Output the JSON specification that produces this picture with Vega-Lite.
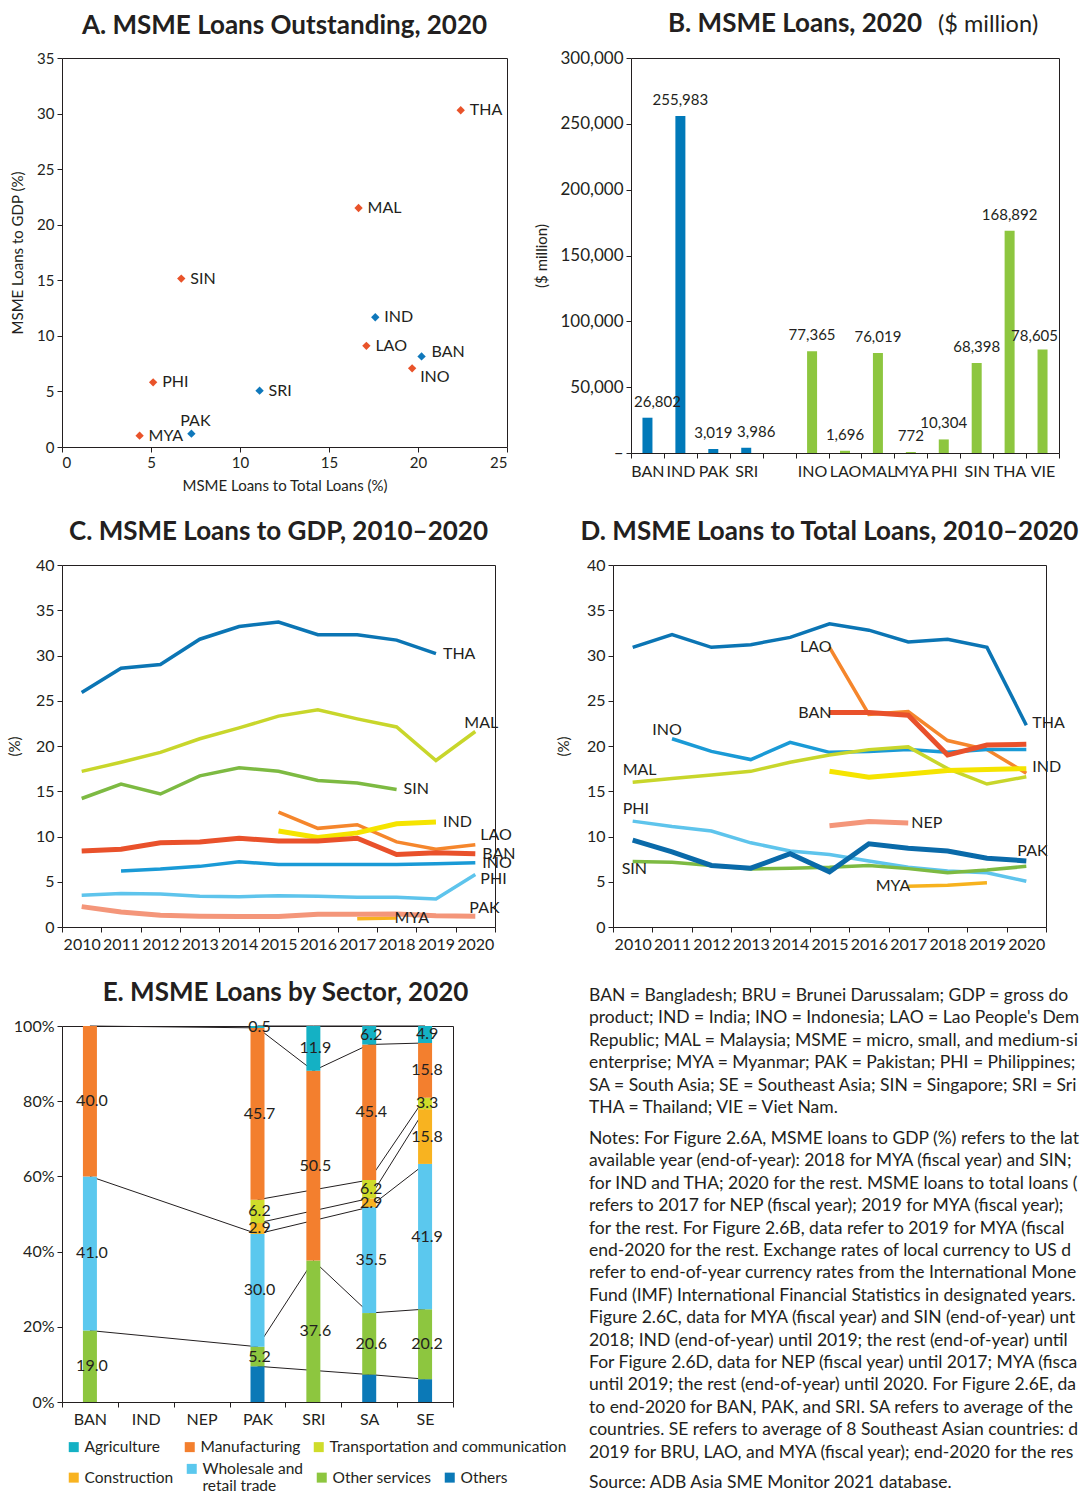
{
  "$schema": "https://vega.github.io/schema/vega-lite/v6.json",
  "background": "white",
  "padding": {"left": 6, "top": 10, "right": 0, "bottom": 0},
  "config": {
    "font": "Lato",
    "view": {"stroke": "#231f20", "strokeWidth": 1},
    "axis": {"domain": false, "grid": false, "tickColor": "#231f20", "tickSize": 5, "labelColor": "#231f20", "labelFontSize": 16, "labelPadding": 3, "titleColor": "#231f20", "titleFontSize": 15, "titleFontWeight": "normal", "titlePadding": 8},
    "title": {"fontSize": 26, "fontWeight": "bold", "color": "#231f20", "anchor": "middle", "frame": "group", "offset": 12},
    "text": {"font": "Lato", "color": "#231f20", "fontSize": 16}
  },
  "datasets": {
    "scatter": [
      {"country": "THA", "total": 22.4, "gdp": 30.3, "region": "Southeast Asia"},
      {"country": "MAL", "total": 16.66, "gdp": 21.5, "region": "Southeast Asia"},
      {"country": "SIN", "total": 6.7, "gdp": 15.15, "region": "Southeast Asia"},
      {"country": "IND", "total": 17.6, "gdp": 11.67, "region": "South Asia"},
      {"country": "LAO", "total": 17.1, "gdp": 9.1, "region": "Southeast Asia"},
      {"country": "BAN", "total": 20.2, "gdp": 8.15, "region": "South Asia"},
      {"country": "INO", "total": 19.67, "gdp": 7.08, "region": "Southeast Asia"},
      {"country": "PHI", "total": 5.12, "gdp": 5.82, "region": "Southeast Asia"},
      {"country": "SRI", "total": 11.1, "gdp": 5.07, "region": "South Asia"},
      {"country": "PAK", "total": 7.27, "gdp": 1.2, "region": "South Asia"},
      {"country": "MYA", "total": 4.36, "gdp": 1.02, "region": "Southeast Asia"}
    ],
    "loans": [
      {"country": "BAN", "value": 26802, "region": "South Asia"},
      {"country": "IND", "value": 255983, "region": "South Asia"},
      {"country": "PAK", "value": 3019, "region": "South Asia"},
      {"country": "SRI", "value": 3986, "region": "South Asia"},
      {"country": "INO", "value": 77365, "region": "Southeast Asia"},
      {"country": "LAO", "value": 1696, "region": "Southeast Asia"},
      {"country": "MAL", "value": 76019, "region": "Southeast Asia"},
      {"country": "MYA", "value": 772, "region": "Southeast Asia"},
      {"country": "PHI", "value": 10304, "region": "Southeast Asia"},
      {"country": "SIN", "value": 68398, "region": "Southeast Asia"},
      {"country": "THA", "value": 168892, "region": "Southeast Asia"},
      {"country": "VIE", "value": 78605, "region": "Southeast Asia"}
    ],
    "gdpSeries": [
      {"country": "THA", "year": 2010, "value": 25.9}, {"country": "THA", "year": 2011, "value": 28.6}, {"country": "THA", "year": 2012, "value": 29.0}, {"country": "THA", "year": 2013, "value": 31.8}, {"country": "THA", "year": 2014, "value": 33.2}, {"country": "THA", "year": 2015, "value": 33.7}, {"country": "THA", "year": 2016, "value": 32.3}, {"country": "THA", "year": 2017, "value": 32.3}, {"country": "THA", "year": 2018, "value": 31.7}, {"country": "THA", "year": 2019, "value": 30.2},
      {"country": "MAL", "year": 2010, "value": 17.2}, {"country": "MAL", "year": 2011, "value": 18.2}, {"country": "MAL", "year": 2012, "value": 19.3}, {"country": "MAL", "year": 2013, "value": 20.8}, {"country": "MAL", "year": 2014, "value": 22.0}, {"country": "MAL", "year": 2015, "value": 23.3}, {"country": "MAL", "year": 2016, "value": 24.0}, {"country": "MAL", "year": 2017, "value": 23.0}, {"country": "MAL", "year": 2018, "value": 22.1}, {"country": "MAL", "year": 2019, "value": 18.4}, {"country": "MAL", "year": 2020, "value": 21.6},
      {"country": "SIN", "year": 2010, "value": 14.2}, {"country": "SIN", "year": 2011, "value": 15.8}, {"country": "SIN", "year": 2012, "value": 14.7}, {"country": "SIN", "year": 2013, "value": 16.7}, {"country": "SIN", "year": 2014, "value": 17.6}, {"country": "SIN", "year": 2015, "value": 17.2}, {"country": "SIN", "year": 2016, "value": 16.2}, {"country": "SIN", "year": 2017, "value": 15.9}, {"country": "SIN", "year": 2018, "value": 15.2},
      {"country": "IND", "year": 2015, "value": 10.6}, {"country": "IND", "year": 2016, "value": 9.9}, {"country": "IND", "year": 2017, "value": 10.4}, {"country": "IND", "year": 2018, "value": 11.4}, {"country": "IND", "year": 2019, "value": 11.6},
      {"country": "LAO", "year": 2015, "value": 12.7}, {"country": "LAO", "year": 2016, "value": 10.9}, {"country": "LAO", "year": 2017, "value": 11.3}, {"country": "LAO", "year": 2018, "value": 9.4}, {"country": "LAO", "year": 2019, "value": 8.6}, {"country": "LAO", "year": 2020, "value": 9.1},
      {"country": "BAN", "year": 2010, "value": 8.4}, {"country": "BAN", "year": 2011, "value": 8.6}, {"country": "BAN", "year": 2012, "value": 9.3}, {"country": "BAN", "year": 2013, "value": 9.4}, {"country": "BAN", "year": 2014, "value": 9.8}, {"country": "BAN", "year": 2015, "value": 9.5}, {"country": "BAN", "year": 2016, "value": 9.5}, {"country": "BAN", "year": 2017, "value": 9.8}, {"country": "BAN", "year": 2018, "value": 8.0}, {"country": "BAN", "year": 2019, "value": 8.2}, {"country": "BAN", "year": 2020, "value": 8.1},
      {"country": "INO", "year": 2011, "value": 6.2}, {"country": "INO", "year": 2012, "value": 6.4}, {"country": "INO", "year": 2013, "value": 6.7}, {"country": "INO", "year": 2014, "value": 7.2}, {"country": "INO", "year": 2015, "value": 6.9}, {"country": "INO", "year": 2016, "value": 6.9}, {"country": "INO", "year": 2017, "value": 6.9}, {"country": "INO", "year": 2018, "value": 6.9}, {"country": "INO", "year": 2019, "value": 7.0}, {"country": "INO", "year": 2020, "value": 7.1},
      {"country": "PHI", "year": 2010, "value": 3.5}, {"country": "PHI", "year": 2011, "value": 3.7}, {"country": "PHI", "year": 2012, "value": 3.65}, {"country": "PHI", "year": 2013, "value": 3.4}, {"country": "PHI", "year": 2014, "value": 3.35}, {"country": "PHI", "year": 2015, "value": 3.45}, {"country": "PHI", "year": 2016, "value": 3.4}, {"country": "PHI", "year": 2017, "value": 3.3}, {"country": "PHI", "year": 2018, "value": 3.3}, {"country": "PHI", "year": 2019, "value": 3.1}, {"country": "PHI", "year": 2020, "value": 5.8},
      {"country": "PAK", "year": 2010, "value": 2.25}, {"country": "PAK", "year": 2011, "value": 1.65}, {"country": "PAK", "year": 2012, "value": 1.3}, {"country": "PAK", "year": 2013, "value": 1.2}, {"country": "PAK", "year": 2014, "value": 1.15}, {"country": "PAK", "year": 2015, "value": 1.15}, {"country": "PAK", "year": 2016, "value": 1.4}, {"country": "PAK", "year": 2017, "value": 1.4}, {"country": "PAK", "year": 2018, "value": 1.45}, {"country": "PAK", "year": 2019, "value": 1.25}, {"country": "PAK", "year": 2020, "value": 1.2},
      {"country": "MYA", "year": 2017, "value": 0.9}, {"country": "MYA", "year": 2018, "value": 1.0}
    ],
    "totalSeries": [
      {"country": "THA", "year": 2010, "value": 30.9}, {"country": "THA", "year": 2011, "value": 32.3}, {"country": "THA", "year": 2012, "value": 30.9}, {"country": "THA", "year": 2013, "value": 31.2}, {"country": "THA", "year": 2014, "value": 32.0}, {"country": "THA", "year": 2015, "value": 33.5}, {"country": "THA", "year": 2016, "value": 32.8}, {"country": "THA", "year": 2017, "value": 31.5}, {"country": "THA", "year": 2018, "value": 31.8}, {"country": "THA", "year": 2019, "value": 30.9}, {"country": "THA", "year": 2020, "value": 22.3},
      {"country": "LAO", "year": 2015, "value": 30.9}, {"country": "LAO", "year": 2016, "value": 23.5}, {"country": "LAO", "year": 2017, "value": 23.8}, {"country": "LAO", "year": 2018, "value": 20.6}, {"country": "LAO", "year": 2019, "value": 19.6}, {"country": "LAO", "year": 2020, "value": 17.0},
      {"country": "BAN", "year": 2015, "value": 23.7}, {"country": "BAN", "year": 2016, "value": 23.7}, {"country": "BAN", "year": 2017, "value": 23.4}, {"country": "BAN", "year": 2018, "value": 19.0}, {"country": "BAN", "year": 2019, "value": 20.1}, {"country": "BAN", "year": 2020, "value": 20.2},
      {"country": "INO", "year": 2011, "value": 20.8}, {"country": "INO", "year": 2012, "value": 19.4}, {"country": "INO", "year": 2013, "value": 18.5}, {"country": "INO", "year": 2014, "value": 20.4}, {"country": "INO", "year": 2015, "value": 19.3}, {"country": "INO", "year": 2016, "value": 19.4}, {"country": "INO", "year": 2017, "value": 19.6}, {"country": "INO", "year": 2018, "value": 19.3}, {"country": "INO", "year": 2019, "value": 19.6}, {"country": "INO", "year": 2020, "value": 19.6},
      {"country": "MAL", "year": 2010, "value": 16.0}, {"country": "MAL", "year": 2011, "value": 16.4}, {"country": "MAL", "year": 2012, "value": 16.8}, {"country": "MAL", "year": 2013, "value": 17.2}, {"country": "MAL", "year": 2014, "value": 18.2}, {"country": "MAL", "year": 2015, "value": 19.0}, {"country": "MAL", "year": 2016, "value": 19.6}, {"country": "MAL", "year": 2017, "value": 19.9}, {"country": "MAL", "year": 2018, "value": 17.5}, {"country": "MAL", "year": 2019, "value": 15.8}, {"country": "MAL", "year": 2020, "value": 16.6},
      {"country": "IND", "year": 2015, "value": 17.2}, {"country": "IND", "year": 2016, "value": 16.55}, {"country": "IND", "year": 2017, "value": 16.9}, {"country": "IND", "year": 2018, "value": 17.3}, {"country": "IND", "year": 2019, "value": 17.4}, {"country": "IND", "year": 2020, "value": 17.5},
      {"country": "NEP", "year": 2015, "value": 11.2}, {"country": "NEP", "year": 2016, "value": 11.65}, {"country": "NEP", "year": 2017, "value": 11.5},
      {"country": "PHI", "year": 2010, "value": 11.7}, {"country": "PHI", "year": 2011, "value": 11.1}, {"country": "PHI", "year": 2012, "value": 10.6}, {"country": "PHI", "year": 2013, "value": 9.3}, {"country": "PHI", "year": 2014, "value": 8.4}, {"country": "PHI", "year": 2015, "value": 8.0}, {"country": "PHI", "year": 2016, "value": 7.3}, {"country": "PHI", "year": 2017, "value": 6.6}, {"country": "PHI", "year": 2018, "value": 6.2}, {"country": "PHI", "year": 2019, "value": 6.0}, {"country": "PHI", "year": 2020, "value": 5.05},
      {"country": "PAK", "year": 2010, "value": 9.6}, {"country": "PAK", "year": 2011, "value": 8.3}, {"country": "PAK", "year": 2012, "value": 6.8}, {"country": "PAK", "year": 2013, "value": 6.5}, {"country": "PAK", "year": 2014, "value": 8.1}, {"country": "PAK", "year": 2015, "value": 6.1}, {"country": "PAK", "year": 2016, "value": 9.2}, {"country": "PAK", "year": 2017, "value": 8.7}, {"country": "PAK", "year": 2018, "value": 8.4}, {"country": "PAK", "year": 2019, "value": 7.6}, {"country": "PAK", "year": 2020, "value": 7.3},
      {"country": "SIN", "year": 2010, "value": 7.25}, {"country": "SIN", "year": 2011, "value": 7.15}, {"country": "SIN", "year": 2012, "value": 6.8}, {"country": "SIN", "year": 2013, "value": 6.4}, {"country": "SIN", "year": 2014, "value": 6.5}, {"country": "SIN", "year": 2015, "value": 6.6}, {"country": "SIN", "year": 2016, "value": 6.8}, {"country": "SIN", "year": 2017, "value": 6.45}, {"country": "SIN", "year": 2018, "value": 6.0}, {"country": "SIN", "year": 2019, "value": 6.3}, {"country": "SIN", "year": 2020, "value": 6.7},
      {"country": "MYA", "year": 2017, "value": 4.5}, {"country": "MYA", "year": 2018, "value": 4.6}, {"country": "MYA", "year": 2019, "value": 4.9}
    ],
    "sector": [
      {"cat": "BAN", "sector": "Other services", "value": 19.0},
      {"cat": "BAN", "sector": "Wholesale and retail trade", "value": 41.0},
      {"cat": "BAN", "sector": "Manufacturing", "value": 40.0},
      {"cat": "PAK", "sector": "Others", "value": 9.5},
      {"cat": "PAK", "sector": "Other services", "value": 5.2},
      {"cat": "PAK", "sector": "Wholesale and retail trade", "value": 30.0},
      {"cat": "PAK", "sector": "Construction", "value": 2.9},
      {"cat": "PAK", "sector": "Transportation and communication", "value": 6.2},
      {"cat": "PAK", "sector": "Manufacturing", "value": 45.7},
      {"cat": "PAK", "sector": "Agriculture", "value": 0.5},
      {"cat": "SRI", "sector": "Other services", "value": 37.6},
      {"cat": "SRI", "sector": "Manufacturing", "value": 50.5},
      {"cat": "SRI", "sector": "Agriculture", "value": 11.9},
      {"cat": "SA", "sector": "Others", "value": 9.2},
      {"cat": "SA", "sector": "Other services", "value": 20.6},
      {"cat": "SA", "sector": "Wholesale and retail trade", "value": 35.5},
      {"cat": "SA", "sector": "Construction", "value": 2.9},
      {"cat": "SA", "sector": "Transportation and communication", "value": 6.2},
      {"cat": "SA", "sector": "Manufacturing", "value": 45.4},
      {"cat": "SA", "sector": "Agriculture", "value": 6.2},
      {"cat": "SE", "sector": "Others", "value": 6.6},
      {"cat": "SE", "sector": "Other services", "value": 20.2},
      {"cat": "SE", "sector": "Wholesale and retail trade", "value": 41.9},
      {"cat": "SE", "sector": "Construction", "value": 15.8},
      {"cat": "SE", "sector": "Transportation and communication", "value": 3.3},
      {"cat": "SE", "sector": "Manufacturing", "value": 15.8},
      {"cat": "SE", "sector": "Agriculture", "value": 4.9}
    ],
    "notes": [
      {"para": 1, "idx": 0, "text": "BAN = Bangladesh; BRU = Brunei Darussalam; GDP = gross domestic"},
      {"para": 1, "idx": 1, "text": "product; IND = India; INO = Indonesia; LAO = Lao People's Democratic"},
      {"para": 1, "idx": 2, "text": "Republic; MAL = Malaysia; MSME = micro, small, and medium-sized"},
      {"para": 1, "idx": 3, "text": "enterprise; MYA = Myanmar; PAK = Pakistan; PHI = Philippines;"},
      {"para": 1, "idx": 4, "text": "SA = South Asia; SE = Southeast Asia; SIN = Singapore; SRI = Sri Lanka;"},
      {"para": 1, "idx": 5, "text": "THA = Thailand; VIE = Viet Nam."},
      {"para": 2, "idx": 6, "text": "Notes: For Figure 2.6A, MSME loans to GDP (%) refers to the latest"},
      {"para": 2, "idx": 7, "text": "available year (end-of-year): 2018 for MYA (fiscal year) and SIN; 2019"},
      {"para": 2, "idx": 8, "text": "for IND and THA; 2020 for the rest. MSME loans to total loans (%)"},
      {"para": 2, "idx": 9, "text": "refers to 2017 for NEP (fiscal year); 2019 for MYA (fiscal year); 2020"},
      {"para": 2, "idx": 10, "text": "for the rest. For Figure 2.6B, data refer to 2019 for MYA (fiscal year);"},
      {"para": 2, "idx": 11, "text": "end-2020 for the rest. Exchange rates of local currency to US dollar"},
      {"para": 2, "idx": 12, "text": "refer to end-of-year currency rates from the International Monetary"},
      {"para": 2, "idx": 13, "text": "Fund (IMF) International Financial Statistics in designated years. For"},
      {"para": 2, "idx": 14, "text": "Figure 2.6C, data for MYA (fiscal year) and SIN (end-of-year) until"},
      {"para": 2, "idx": 15, "text": "2018; IND (end-of-year) until 2019; the rest (end-of-year) until 2020."},
      {"para": 2, "idx": 16, "text": "For Figure 2.6D, data for NEP (fiscal year) until 2017; MYA (fiscal year)"},
      {"para": 2, "idx": 17, "text": "until 2019; the rest (end-of-year) until 2020. For Figure 2.6E, data refer"},
      {"para": 2, "idx": 18, "text": "to end-2020 for BAN, PAK, and SRI. SA refers to average of these three"},
      {"para": 2, "idx": 19, "text": "countries. SE refers to average of 8 Southeast Asian countries: data in"},
      {"para": 2, "idx": 20, "text": "2019 for BRU, LAO, and MYA (fiscal year); end-2020 for the rest."},
      {"para": 3, "idx": 21, "text": "Source: ADB Asia SME Monitor 2021 database."}
    ]
  },
  "spacing": 26,
  "resolve": {"scale": {"color": "independent", "fill": "independent", "x": "independent", "y": "independent"}, "legend": {"color": "independent", "fill": "independent"}},
  "vconcat": [
    {
      "spacing": 24,
      "resolve": {"scale": {"color": "independent", "fill": "independent", "x": "independent", "y": "independent"}, "legend": {"color": "independent", "fill": "independent"}},
      "vconcat": [
        {
          "bounds": "flush",
          "spacing": 124,
          "resolve": {"scale": {"color": "independent", "x": "independent", "y": "independent"}},
          "hconcat": [
            {
              "width": 445,
              "height": 389,
              "title": {"text": "A. MSME Loans Outstanding, 2020"},
              "data": {"name": "scatter"},
              "encoding": {
                "x": {"field": "total", "type": "quantitative", "scale": {"domain": [0, 25], "nice": false}, "axis": {"title": "MSME Loans to Total Loans (%)", "values": [0, 5, 10, 15, 20, 25], "labelFontSize": 15}},
                "y": {"field": "gdp", "type": "quantitative", "scale": {"domain": [0, 35], "nice": false}, "axis": {"title": "MSME Loans to GDP (%)", "values": [0, 5, 10, 15, 20, 25, 30, 35], "labelFontSize": 15, "titlePadding": 11}}
              },
              "layer": [
                {
                  "mark": {"type": "point", "shape": "diamond", "filled": true, "size": 70, "opacity": 1},
                  "encoding": {"color": {"field": "region", "type": "nominal", "scale": {"domain": ["South Asia", "Southeast Asia"], "range": ["#0f78bb", "#e9532a"]}, "legend": null}}
                },
                {
                  "transform": [{"filter": {"field": "country", "oneOf": ["THA", "MAL", "SIN", "IND", "LAO", "PHI", "SRI", "MYA"]}}],
                  "mark": {"type": "text", "align": "left", "baseline": "middle", "dx": 9},
                  "encoding": {"text": {"field": "country"}}
                },
                {
                  "transform": [{"filter": {"field": "country", "equal": "BAN"}}],
                  "mark": {"type": "text", "align": "left", "baseline": "middle", "dx": 10, "dy": -4},
                  "encoding": {"text": {"field": "country"}}
                },
                {
                  "transform": [{"filter": {"field": "country", "equal": "INO"}}],
                  "mark": {"type": "text", "align": "left", "baseline": "middle", "dx": 8, "dy": 9},
                  "encoding": {"text": {"field": "country"}}
                },
                {
                  "transform": [{"filter": {"field": "country", "equal": "PAK"}}],
                  "mark": {"type": "text", "align": "center", "baseline": "middle", "dx": 4, "dy": -13},
                  "encoding": {"text": {"field": "country"}}
                }
              ]
            },
            {
              "width": 428,
              "height": 395,
              "title": {"text": "B. MSME Loans, 2020", "anchor": "start", "dx": 37, "subtitle": "\u2800\u2800\u2800\u2800\u2800\u2800\u2800\u2800\u2800\u2800\u2800\u2800\u2800\u2800\u2800($ million)", "subtitleFontSize": 23.5, "subtitleFontWeight": "normal", "subtitleColor": "#231f20", "subtitleFont": "Lato", "subtitlePadding": -24},
              "data": {"name": "loans"},
              "encoding": {
                "x": {"field": "country", "type": "nominal", "sort": null, "scale": {"domain": ["BAN", "IND", "PAK", "SRI", " ", "INO", "LAO", "MAL", "MYA", "PHI", "SIN", "THA", "VIE"], "paddingInner": 0, "paddingOuter": 0}, "axis": {"title": null, "labelAngle": 0, "tickBand": "extent", "labelPadding": 5}},
                "y": {"field": "value", "type": "quantitative", "scale": {"domain": [0, 300000], "nice": false}, "axis": {"title": "($ million)", "titlePadding": 10, "labelFontSize": 17, "values": [0, 50000, 100000, 150000, 200000, 250000, 300000], "labelExpr": "datum.value === 0 ? '–' : format(datum.value, ',')"}}
              },
              "layer": [
                {
                  "mark": {"type": "bar", "width": 10},
                  "encoding": {"color": {"field": "region", "type": "nominal", "scale": {"domain": ["South Asia", "Southeast Asia"], "range": ["#0079b9", "#8dc63f"]}, "legend": null}}
                },
                {
                  "transform": [{"filter": {"field": "country", "oneOf": ["IND", "PAK", "INO", "LAO", "MAL", "MYA", "PHI", "SIN", "THA"]}}],
                  "mark": {"type": "text", "baseline": "middle", "dy": -16, "fontSize": 15},
                  "encoding": {"text": {"field": "value", "format": ","}}
                },
                {
                  "transform": [{"filter": {"field": "country", "oneOf": ["BAN", "SRI"]}}],
                  "mark": {"type": "text", "baseline": "middle", "dy": -16, "dx": 10, "fontSize": 15},
                  "encoding": {"text": {"field": "value", "format": ","}}
                },
                {
                  "transform": [{"filter": {"field": "country", "equal": "VIE"}}],
                  "mark": {"type": "text", "baseline": "middle", "dy": -14, "dx": -8, "fontSize": 15},
                  "encoding": {"text": {"field": "value", "format": ","}}
                }
              ]
            }
          ]
        },
        {
          "bounds": "flush",
          "spacing": 118,
          "resolve": {"scale": {"color": "independent", "x": "independent", "y": "independent"}},
          "hconcat": [
            {
              "width": 433,
              "height": 362,
              "title": {"text": "C. MSME Loans to GDP, 2010–2020"},
              "data": {"name": "gdpSeries"},
              "encoding": {
                "x": {"field": "year", "type": "ordinal", "bandPosition": 0.5, "scale": {"type": "band", "domain": [2010, 2011, 2012, 2013, 2014, 2015, 2016, 2017, 2018, 2019, 2020], "paddingInner": 0, "paddingOuter": 0}, "axis": {"title": null, "labelAngle": 0, "tickBand": "extent", "labelPadding": 4}},
                "y": {"field": "value", "type": "quantitative", "scale": {"domain": [0, 40], "nice": false}, "axis": {"title": "(%)", "values": [0, 5, 10, 15, 20, 25, 30, 35, 40], "titlePadding": 13}},
                "color": {"field": "country", "type": "nominal", "scale": {"domain": ["THA", "MAL", "SIN", "IND", "LAO", "BAN", "INO", "PHI", "PAK", "MYA"], "range": ["#0b75b4", "#c8d62b", "#7dba42", "#f5e400", "#f5862c", "#e9512b", "#1a9ad6", "#5ec4ec", "#f4967a", "#f7b21e"]}, "legend": null}
              },
              "layer": [
                {"transform": [{"filter": {"field": "country", "oneOf": ["THA", "MAL", "SIN", "LAO", "INO", "PHI", "MYA"]}}], "mark": {"type": "line", "strokeWidth": 3.5}},
                {"transform": [{"filter": {"field": "country", "oneOf": ["BAN", "IND", "PAK"]}}], "mark": {"type": "line", "strokeWidth": 5}},
                {"transform": [{"filter": "(datum.country === 'THA' && datum.year === 2019) || (datum.country === 'SIN' && datum.year === 2018) || (datum.country === 'IND' && datum.year === 2019) || (datum.country === 'BAN' && datum.year === 2020) || (datum.country === 'INO' && datum.year === 2020)"}], "mark": {"type": "text", "align": "left", "baseline": "middle", "dx": 7}, "encoding": {"text": {"field": "country"}, "color": {"value": "#231f20"}}},
                {"transform": [{"filter": "datum.country === 'MAL' && datum.year === 2020"}], "mark": {"type": "text", "align": "left", "baseline": "middle", "dx": -11, "dy": -9}, "encoding": {"text": {"field": "country"}, "color": {"value": "#231f20"}}},
                {"transform": [{"filter": "datum.country === 'LAO' && datum.year === 2020"}], "mark": {"type": "text", "align": "left", "baseline": "middle", "dx": 5, "dy": -10}, "encoding": {"text": {"field": "country"}, "color": {"value": "#231f20"}}},
                {"transform": [{"filter": "datum.country === 'PAK' && datum.year === 2020"}], "mark": {"type": "text", "align": "left", "baseline": "middle", "dx": -6, "dy": -8}, "encoding": {"text": {"field": "country"}, "color": {"value": "#231f20"}}},
                {"transform": [{"filter": "datum.country === 'PHI' && datum.year === 2020"}], "mark": {"type": "text", "align": "left", "baseline": "middle", "dx": 5, "dy": 4}, "encoding": {"text": {"field": "country"}, "color": {"value": "#231f20"}}},
                {"transform": [{"filter": "datum.country === 'MYA' && datum.year === 2018"}], "mark": {"type": "text", "align": "left", "baseline": "middle", "dx": -2}, "encoding": {"text": {"field": "country"}, "color": {"value": "#231f20"}}}
              ]
            },
            {
              "width": 433,
              "height": 362,
              "title": {"text": "D. MSME Loans to Total Loans, 2010–2020"},
              "data": {"name": "totalSeries"},
              "encoding": {
                "x": {"field": "year", "type": "ordinal", "bandPosition": 0.5, "scale": {"type": "band", "domain": [2010, 2011, 2012, 2013, 2014, 2015, 2016, 2017, 2018, 2019, 2020], "paddingInner": 0, "paddingOuter": 0}, "axis": {"title": null, "labelAngle": 0, "tickBand": "extent", "labelPadding": 4}},
                "y": {"field": "value", "type": "quantitative", "scale": {"domain": [0, 40], "nice": false}, "axis": {"title": "(%)", "values": [0, 5, 10, 15, 20, 25, 30, 35, 40], "titlePadding": 15}},
                "color": {"field": "country", "type": "nominal", "scale": {"domain": ["THA", "LAO", "BAN", "INO", "MAL", "IND", "NEP", "PHI", "PAK", "SIN", "MYA"], "range": ["#0b75b4", "#f5862c", "#e9512b", "#1a9ad6", "#c8d62b", "#f5e400", "#f4967a", "#5ec4ec", "#0a6aa9", "#7dba42", "#f7b21e"]}, "legend": null}
              },
              "layer": [
                {"transform": [{"filter": {"field": "country", "oneOf": ["THA", "LAO", "INO", "MAL", "PHI", "SIN", "MYA"]}}], "mark": {"type": "line", "strokeWidth": 3.5}},
                {"transform": [{"filter": {"field": "country", "oneOf": ["IND", "NEP", "PAK", "BAN"]}}], "mark": {"type": "line", "strokeWidth": 5}},
                {"transform": [{"filter": "(datum.country === 'LAO' && datum.year === 2015) || (datum.country === 'BAN' && datum.year === 2015) || (datum.country === 'MYA' && datum.year === 2017)"}], "mark": {"type": "text", "align": "right", "baseline": "middle", "dx": 2}, "encoding": {"text": {"field": "country"}, "color": {"value": "#231f20"}}},
                {"transform": [{"filter": "datum.country === 'INO' && datum.year === 2011"}], "mark": {"type": "text", "align": "center", "baseline": "middle", "dx": -5, "dy": -9}, "encoding": {"text": {"field": "country"}, "color": {"value": "#231f20"}}},
                {"transform": [{"filter": "(datum.country === 'MAL' || datum.country === 'PHI') && datum.year === 2010"}], "mark": {"type": "text", "align": "left", "baseline": "middle", "dx": -10, "dy": -12}, "encoding": {"text": {"field": "country"}, "color": {"value": "#231f20"}}},
                {"transform": [{"filter": "datum.country === 'SIN' && datum.year === 2010"}], "mark": {"type": "text", "align": "left", "baseline": "middle", "dx": -11, "dy": 8}, "encoding": {"text": {"field": "country"}, "color": {"value": "#231f20"}}},
                {"transform": [{"filter": "datum.country === 'NEP' && datum.year === 2017"}], "mark": {"type": "text", "align": "left", "baseline": "middle", "dx": 3}, "encoding": {"text": {"field": "country"}, "color": {"value": "#231f20"}}},
                {"transform": [{"filter": "datum.country === 'PAK' && datum.year === 2020"}], "mark": {"type": "text", "align": "left", "baseline": "middle", "dx": -9, "dy": -10}, "encoding": {"text": {"field": "country"}, "color": {"value": "#231f20"}}},
                {"transform": [{"filter": "(datum.country === 'THA' || datum.country === 'IND') && datum.year === 2020"}], "mark": {"type": "text", "align": "left", "baseline": "middle", "dx": 6, "dy": -2}, "encoding": {"text": {"field": "country"}, "color": {"value": "#231f20"}}}
              ]
            }
          ]
        }
      ]
    },
    {
      "bounds": "flush",
      "spacing": 136,
      "resolve": {"scale": {"color": "independent", "fill": "independent", "x": "independent", "y": "independent"}, "legend": {"color": "independent", "fill": "independent"}},
      "hconcat": [
        {
          "width": 391,
          "height": 376,
          "title": {"text": "E. MSME Loans by Sector, 2020", "dx": 28},
          "data": {"name": "sector"},
          "transform": [
            {"calculate": "indexof(['Others', 'Other services', 'Wholesale and retail trade', 'Construction', 'Transportation and communication', 'Manufacturing', 'Agriculture'], datum.sector)", "as": "k"},
            {"calculate": "indexof(['BAN', 'IND', 'NEP', 'PAK', 'SRI', 'SA', 'SE'], datum.cat)", "as": "ci"},
            {"stack": "value", "groupby": ["cat"], "offset": "normalize", "sort": [{"field": "k", "order": "ascending"}], "as": ["y0", "y1"]},
            {"calculate": "(datum.y0 + datum.y1) / 2", "as": "ym"}
          ],
          "layer": [
            {
              "mark": {"type": "line", "color": "#231f20", "strokeWidth": 1},
              "encoding": {
                "x": {"field": "cat", "type": "nominal", "bandPosition": 0.5, "scale": {"domain": ["BAN", "IND", "NEP", "PAK", "SRI", "SA", "SE"], "paddingInner": 0, "paddingOuter": 0}, "axis": {"title": null, "labelAngle": 0, "tickBand": "extent", "labelPadding": 4}},
                "y": {"field": "y1", "type": "quantitative", "scale": {"domain": [0, 1], "nice": false}, "axis": {"title": null, "format": ".0%", "values": [0, 0.2, 0.4, 0.6, 0.8, 1]}},
                "detail": {"field": "sector"},
                "order": {"field": "ci"}
              }
            },
            {
              "mark": {"type": "bar", "width": 14},
              "encoding": {
                "x": {"field": "cat", "type": "nominal"},
                "y": {"field": "y0", "type": "quantitative"},
                "y2": {"field": "y1"},
                "color": {
                  "field": "sector", "type": "nominal",
                  "scale": {"domain": ["Agriculture", "Manufacturing", "Transportation and communication", "Construction", "Wholesale and retail trade", "Other services", "Others"], "range": ["#14b1c4", "#f37f2e", "#cfdc2a", "#f8b320", "#5bc8ee", "#8dc63f", "#0b79b7"]},
                  "legend": {"title": null, "orient": "none", "legendX": 4, "legendY": 435, "direction": "horizontal", "values": ["Construction", "Wholesale and retail trade", "Other services", "Others"], "symbolType": "square", "symbolSize": 100, "symbolStrokeWidth": 0, "labelOffset": 3, "labelFontSize": 15.5, "labelColor": "#231f20", "columnPadding": 10, "padding": 0, "labelLimit": 400, "labelExpr": "datum.label === 'Wholesale and retail trade' ? ['Wholesale and', 'retail trade'] : datum.label"}
                }
              }
            },
            {
              "transform": [{"filter": {"field": "sector", "oneOf": ["Agriculture", "Manufacturing", "Transportation and communication"]}}],
              "mark": {"type": "square", "opacity": 0, "size": 1},
              "encoding": {
                "x": {"field": "cat", "type": "nominal", "bandPosition": 0.5},
                "y": {"field": "ym", "type": "quantitative"},
                "fill": {
                  "field": "sector", "type": "nominal",
                  "scale": {"domain": ["Agriculture", "Manufacturing", "Transportation and communication"], "range": ["#14b1c4", "#f37f2e", "#cfdc2a"]},
                  "legend": {"title": null, "orient": "none", "legendX": 4, "legendY": 413, "direction": "horizontal", "symbolType": "square", "symbolSize": 100, "symbolStrokeWidth": 0, "symbolOpacity": 1, "labelOffset": 3, "labelFontSize": 15.5, "labelColor": "#231f20", "columnPadding": 10, "padding": 0, "labelLimit": 400, "labelExpr": "datum.label === 'Agriculture' ? 'Agriculture\u2800' : datum.label"}
                }
              }
            },
            {
              "transform": [{"filter": "datum.sector !== 'Others'"}],
              "mark": {"type": "text", "baseline": "middle", "dx": 2},
              "encoding": {
                "x": {"field": "cat", "type": "nominal", "bandPosition": 0.5},
                "y": {"field": "ym", "type": "quantitative"},
                "text": {"field": "value", "type": "quantitative", "format": ".1f"}
              }
            }
          ]
        },
        {
          "width": 491,
          "height": 376,
          "view": {"stroke": null},
          "data": {"name": "notes"},
          "encoding": {
            "x": {"datum": 0, "type": "quantitative", "scale": {"domain": [0, 1]}, "axis": null},
            "y": {"field": "idx", "type": "quantitative", "scale": {"domain": [0, 21], "range": [-30, 440.4]}, "axis": null},
            "text": {"field": "text"}
          },
          "layer": [
            {"transform": [{"filter": "datum.para === 1"}], "mark": {"type": "text", "align": "left", "baseline": "middle", "fontSize": 17.5, "limit": 491, "ellipsis": "\u200b"}},
            {"transform": [{"filter": "datum.para === 2"}], "mark": {"type": "text", "align": "left", "baseline": "middle", "fontSize": 17.5, "limit": 491, "ellipsis": "\u200b", "dy": 8.6}},
            {"transform": [{"filter": "datum.para === 3"}], "mark": {"type": "text", "align": "left", "baseline": "middle", "fontSize": 17.5, "limit": 491, "ellipsis": "\u200b", "dy": 16.2}}
          ]
        }
      ]
    }
  ]
}
